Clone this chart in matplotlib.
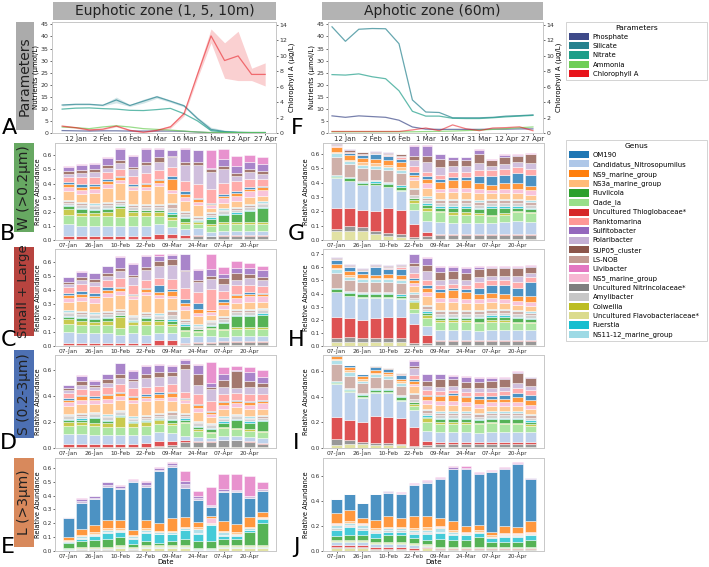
import matplotlib
matplotlib.use("Agg")
from matplotlib import pyplot as plt
from matplotlib.patches import Patch, Rectangle
import numpy as np

W, H = 709, 567

# ---------------- environmental parameters (A / F) ----------------
line_ticks = [1, 3, 5, 7, 9, 11, 13, 15]
line_tick_labels = ["12 Jan", "2 Feb", "16 Feb", "1 Mar", "16 Mar", "31 Mar", "12 Apr", "27 Apr"]

phosphate_A = [1.0, 0.9, 0.8, 0.9, 0.9, 0.8, 0.8, 0.8, 0.8, 0.7, 0.4, 0.1, 0.1, 0.1, 0.1, 0.1]
silicate_A = [11.6, 11.9, 11.9, 11.5, 13.7, 11.4, 13.2, 15.0, 13.2, 11.3, 6.0, 1.5, 0.6, 0.3, 0.2, 0.2]
silicate_A_sd = [0.4, 0.3, 0.3, 0.3, 1.2, 0.4, 0.8, 0.6, 0.5, 0.5, 0.6, 0.9, 0.6, 0.4, 0.3, 0.3]
nitrate_A = [9.9, 10.3, 10.4, 10.1, 9.9, 9.4, 9.3, 9.7, 10.2, 8.0, 5.0, 1.0, 0.4, 0.2, 0.1, 0.1]
ammonia_A = [2.5, 2.2, 1.8, 2.5, 3.0, 2.5, 1.8, 1.5, 1.2, 0.8, 0.4, 0.2, 0.2, 0.2, 0.2, 0.2]
chl_A = [0.9, 0.7, 0.4, 0.5, 0.9, 0.35, 0.1, 0.35, 0.8, 2.5, 7.6, 12.6, 9.4, 10.0, 7.6, 7.6]
chl_A_sd = [0.1, 0.1, 0.1, 0.1, 0.1, 0.1, 0.1, 0.1, 0.2, 0.3, 0.5, 0.9, 2.3, 3.2, 0.8, 1.5]

phosphate_F = [7.1, 6.5, 7.1, 6.8, 6.5, 5.3, 2.5, 1.6, 1.5, 1.5, 1.5, 1.5, 1.6, 1.6, 1.7, 1.7]
silicate_F = [44.0, 38.0, 43.0, 43.3, 43.2, 37.0, 13.7, 8.7, 8.5, 6.3, 6.3, 6.3, 6.5, 7.0, 7.2, 7.5]
nitrate_F = [24.2, 24.0, 24.5, 23.3, 22.5, 17.5, 9.0, 7.0, 7.0, 6.1, 6.0, 6.0, 6.3, 6.7, 7.0, 7.3]
ammonia_F = [0.5, 0.5, 0.5, 0.5, 0.5, 0.5, 0.5, 0.6, 0.7, 0.8, 1.0, 1.2, 1.5, 1.8, 2.2, 2.5]
chl_F = [0.2, 0.2, 0.2, 0.2, 0.2, 0.2, 0.4, 0.65, 0.3, 1.05, 0.55, 0.3, 0.65, 0.7, 0.8, 0.3]

param_names = ["Phosphate", "Silicate", "Nitrate", "Ammonia", "Chlorophyll A"]
param_colors = ["#3e4a89", "#26828e", "#1f9e89", "#6ece58", "#e8141b"]

# ---------------- genus composition (B-E euphotic, G-J aphotic) ----------------
bar_dates = ["07-Jan", "14-Jan", "26-Jan", "02-Feb", "10-Feb", "16-Feb", "22-Feb", "01-Mar",
             "09-Mar", "16-Mar", "24-Mar", "31-Mar", "07-Apr", "12-Apr", "20-Apr", "27-Apr"]

genus_legend = ["OM190", "Candidatus_Nitrosopumilus", "NS9_marine_group", "NS3a_marine_group",
                "Fluviicola", "Clade_Ia", "Uncultured Thioglobaceae*", "Planktomarina",
                "Sulfitobacter", "Polaribacter", "SUP05_cluster", "LS-NOB", "Ulvibacter",
                "NS5_marine_group", "Uncultured Nitrincolaceae*", "Amylibacter", "Colwellia",
                "Uncultured Flavobacteriaceae*", "Fuerstia", "NS11-12_marine_group"]

stack_order = ["Uncultured Flavobacteriaceae*", "Uncultured Nitrincolaceae*",
               "Uncultured Thioglobaceae*", "Candidatus_Nitrosopumilus", "Clade_Ia",
               "Colwellia", "Fluviicola", "Fuerstia", "Amylibacter", "LS-NOB",
               "NS11-12_marine_group", "NS3a_marine_group", "NS5_marine_group",
               "NS9_marine_group", "OM190", "Planktomarina", "Polaribacter",
               "SUP05_cluster", "Sulfitobacter", "Ulvibacter"]

W_euph = {
    "Uncultured Flavobacteriaceae*": [.005, .005, .005, .005, .005, .005, .005, .005, .005, .005, .005, .005, .01, .01, .01, .01],
    "Uncultured Nitrincolaceae*": [.005, .005, .005, .005, .005, .005, .005, .005, .01, .01, .02, .02, .02, .02, .02, .02],
    "Uncultured Thioglobaceae*": [.02, .02, .02, .02, .02, .02, .02, .03, .03, .02, .01, .005, .005, .005, .005, .005],
    "Candidatus_Nitrosopumilus": [.08, .07, .07, .07, .07, .07, .07, .07, .05, .04, .05, .03, .03, .03, .03, .03],
    "Clade_Ia": [.07, .07, .07, .07, .06, .07, .07, .06, .05, .04, .03, .04, .05, .05, .05, .05],
    "Colwellia": [.04, .02, .02, .03, .07, .03, .03, .03, .02, .01, .01, .01, .01, .01, .01, .01],
    "Fluviicola": [.02, .03, .02, .02, .01, .01, .01, .01, .02, .03, .01, .04, .05, .06, .08, .10],
    "Fuerstia": [.005, .01, .01, .01, .005, .005, .005, .005, .01, .01, .005, .01, .01, .01, .01, .01],
    "Amylibacter": [.02, .02, .02, .02, .02, .02, .02, .02, .03, .02, .01, .02, .02, .02, .02, .02],
    "LS-NOB": [.01, .01, .01, .01, .01, .01, .01, .01, .03, .01, .01, .01, .01, .01, .01, .01],
    "NS11-12_marine_group": [.01, .01, .01, .01, .01, .01, .01, .01, .01, .01, .01, .005, .01, .01, .01, .01],
    "NS3a_marine_group": [.06, .055, .075, .10, .12, .10, .10, .13, .07, .07, .08, .03, .04, .04, .05, .04],
    "NS5_marine_group": [.03, .03, .03, .03, .02, .02, .02, .02, .02, .03, .02, .02, .03, .04, .04, .04],
    "NS9_marine_group": [.02, .02, .02, .02, .02, .01, .02, .02, .08, .02, .02, .01, .02, .02, .02, .02],
    "OM190": [.015, .02, .015, .01, .01, .01, .01, .01, .02, .02, .005, .005, .01, .01, .01, .005],
    "Planktomarina": [.04, .05, .05, .05, .05, .06, .07, .06, .06, .07, .10, .10, .08, .07, .06, .05],
    "Polaribacter": [.02, .03, .03, .03, .04, .05, .06, .06, .07, .12, .14, .12, .10, .04, .05, .04],
    "SUP05_cluster": [.02, .02, .02, .02, .02, .01, .02, .03, .01, .02, .02, .02, .02, .02, .02, .02],
    "Sulfitobacter": [.03, .04, .04, .05, .08, .08, .09, .06, .04, .09, .08, .01, .05, .05, .05, .05],
    "Ulvibacter": [.005, .005, .005, .005, .005, .005, .005, .01, .005, .005, .005, .13, .07, .07, .05, .05],
}

SL_euph = {
    "Uncultured Flavobacteriaceae*": [.005, .005, .005, .005, .005, .005, .005, .005, .005, .005, .005, .005, .01, .01, .01, .01],
    "Uncultured Nitrincolaceae*": [.005, .005, .005, .005, .005, .005, .005, .005, .005, .01, .02, .02, .02, .02, .02, .02],
    "Uncultured Thioglobaceae*": [.01, .01, .01, .01, .01, .01, .01, .03, .03, .01, .005, .005, .005, .005, .005, .005],
    "Candidatus_Nitrosopumilus": [.08, .07, .07, .07, .06, .07, .06, .05, .05, .04, .04, .04, .03, .04, .04, .04],
    "Clade_Ia": [.06, .06, .06, .06, .05, .06, .07, .06, .05, .04, .03, .05, .05, .05, .05, .05],
    "Colwellia": [.03, .03, .02, .03, .08, .02, .03, .03, .02, .01, .01, .01, .01, .01, .01, .01],
    "Fluviicola": [.02, .02, .02, .02, .01, .01, .02, .01, .02, .03, .01, .01, .04, .08, .08, .09],
    "Fuerstia": [.005, .01, .01, .01, .005, .005, .005, .005, .01, .01, .005, .01, .01, .01, .01, .01],
    "Amylibacter": [.02, .02, .02, .02, .02, .02, .02, .02, .03, .02, .01, .02, .02, .02, .02, .02],
    "LS-NOB": [.01, .01, .01, .01, .01, .01, .01, .01, .03, .01, .01, .01, .01, .01, .01, .01],
    "NS11-12_marine_group": [.01, .01, .01, .01, .01, .01, .01, .01, .01, .01, .01, .005, .01, .01, .01, .01],
    "NS3a_marine_group": [.06, .07, .07, .10, .10, .11, .12, .11, .08, .06, .06, .04, .05, .04, .05, .04],
    "NS5_marine_group": [.03, .03, .03, .03, .03, .02, .02, .02, .02, .03, .02, .02, .03, .04, .04, .04],
    "NS9_marine_group": [.02, .02, .02, .02, .02, .01, .02, .02, .03, .02, .03, .01, .02, .02, .02, .02],
    "OM190": [.015, .02, .02, .02, .01, .01, .01, .05, .02, .03, .04, .005, .02, .01, .01, .005],
    "Planktomarina": [.04, .05, .05, .05, .06, .06, .06, .05, .07, .08, .08, .15, .06, .06, .05, .05],
    "Polaribacter": [.02, .03, .03, .03, .05, .06, .07, .09, .10, .12, .07, .07, .05, .04, .05, .04],
    "SUP05_cluster": [.02, .02, .02, .02, .02, .01, .02, .03, .04, .01, .02, .02, .04, .05, .03, .02],
    "Sulfitobacter": [.03, .04, .04, .05, .08, .08, .08, .04, .03, .11, .07, .05, .03, .03, .04, .05],
    "Ulvibacter": [.005, .005, .005, .005, .005, .005, .005, .01, .005, .005, .005, .11, .05, .05, .04, .03],
}

S_euph = {
    "Uncultured Flavobacteriaceae*": [.005, .005, .005, .005, .005, .005, .005, .005, .005, .01, .01, .01, .01, .01, .01, .01],
    "Uncultured Nitrincolaceae*": [.005, .005, .005, .005, .005, .005, .005, .01, .02, .04, .04, .04, .05, .05, .04, .02],
    "Uncultured Thioglobaceae*": [.02, .02, .02, .02, .02, .02, .03, .04, .03, .01, .005, .005, .005, .005, .005, .005],
    "Candidatus_Nitrosopumilus": [.08, .08, .07, .07, .07, .07, .06, .07, .06, .03, .03, .02, .03, .03, .03, .04],
    "Clade_Ia": [.06, .07, .07, .06, .06, .06, .07, .06, .06, .10, .05, .04, .06, .05, .05, .05],
    "Colwellia": [.03, .02, .02, .03, .08, .03, .03, .03, .02, .01, .01, .01, .01, .01, .01, .01],
    "Fluviicola": [.02, .02, .04, .02, .01, .01, .01, .01, .02, .02, .02, .02, .03, .06, .05, .07],
    "Fuerstia": [.005, .01, .01, .01, .005, .005, .005, .005, .01, .01, .005, .01, .01, .01, .01, .01],
    "Amylibacter": [.02, .02, .02, .02, .02, .02, .02, .02, .03, .02, .02, .02, .02, .02, .02, .02],
    "LS-NOB": [.01, .01, .01, .01, .01, .01, .01, .01, .02, .01, .01, .01, .01, .01, .01, .01],
    "NS11-12_marine_group": [.01, .01, .01, .01, .01, .01, .01, .01, .01, .01, .01, .005, .01, .01, .01, .01],
    "NS3a_marine_group": [.06, .07, .06, .09, .08, .10, .11, .10, .08, .08, .07, .05, .06, .05, .06, .05],
    "NS5_marine_group": [.03, .03, .03, .03, .03, .03, .02, .02, .03, .02, .03, .02, .03, .03, .03, .04],
    "NS9_marine_group": [.02, .03, .02, .03, .02, .02, .02, .03, .03, .01, .02, .02, .02, .02, .02, .02],
    "OM190": [.01, .01, .01, .01, .01, .01, .01, .01, .01, .01, .01, .005, .01, .01, .01, .005],
    "Planktomarina": [.04, .05, .05, .05, .06, .06, .06, .05, .06, .04, .08, .08, .05, .05, .05, .05],
    "Polaribacter": [.02, .03, .02, .03, .05, .05, .07, .07, .06, .18, .07, .09, .06, .04, .06, .05],
    "SUP05_cluster": [.02, .03, .02, .03, .03, .02, .03, .04, .03, .04, .08, .02, .05, .13, .04, .03],
    "Sulfitobacter": [.02, .04, .03, .04, .08, .06, .06, .05, .05, .03, .07, .03, .05, .01, .07, .05],
    "Ulvibacter": [.005, .005, .005, .005, .005, .005, .005, .01, .005, .005, .01, .16, .05, .03, .04, .05],
}

L_euph = {
    "Uncultured Flavobacteriaceae*": [.01, .01, .01, .01, .02, .01, .02, .02, .02, .02, .005, .005, .02, .02, .02, .02],
    "Uncultured Nitrincolaceae*": [0, .005, .005, .005, .005, .005, .005, .005, .005, .005, .005, .005, .005, .005, .005, .005],
    "Uncultured Thioglobaceae*": [0, 0, 0, 0, 0, 0, 0, 0, 0, 0, 0, 0, 0, 0, 0, 0],
    "Candidatus_Nitrosopumilus": [.005, .005, .005, .005, .005, .005, .005, .005, .005, .005, .005, .005, .005, .005, .005, .005],
    "Clade_Ia": [.005, .005, .005, .005, .005, .005, .005, .005, .005, .005, .005, .005, .005, .005, .005, .005],
    "Colwellia": [.005, .005, .005, .005, .005, .005, .005, .005, .005, .005, .005, .005, .005, .005, .005, .005],
    "Fluviicola": [.03, .04, .05, .06, .06, .02, .03, .02, .03, .05, .05, .05, .05, .05, .10, .16],
    "Fuerstia": [.01, .02, .03, .04, .04, .04, .06, .06, .05, .06, .05, .11, .02, .02, .01, .03],
    "Amylibacter": [.005, .005, .005, .005, .005, .005, .005, .005, .005, .005, .005, .005, .005, .005, .005, .005],
    "LS-NOB": [0, 0, 0, 0, 0, 0, 0, 0, 0, 0, 0, 0, 0, 0, 0, 0],
    "NS11-12_marine_group": [.005, .01, .01, .02, .01, .01, .02, .01, .01, .01, .03, .005, .02, .01, .01, .005],
    "NS3a_marine_group": [.005, .01, .01, .01, .01, .01, .01, .01, .01, .01, .01, .01, .01, .01, .01, .005],
    "NS5_marine_group": [0, 0, 0, 0, 0, 0, 0, 0, 0, 0, 0, .03, 0, 0, 0, 0],
    "NS9_marine_group": [.02, .045, .05, .06, .06, .04, .06, .06, .09, .07, .04, .02, .07, .06, .07, .04],
    "OM190": [.14, .19, .19, .24, .22, .34, .24, .37, .375, .21, .16, .06, .21, .23, .14, .15],
    "Planktomarina": [0, 0, 0, 0, 0, 0, 0, 0, 0, 0, 0, 0, 0, 0, 0, 0],
    "Polaribacter": [.005, .01, .01, .01, .01, .01, .01, .01, .01, .03, .01, .01, .01, .01, .01, .01],
    "SUP05_cluster": [0, 0, 0, 0, 0, 0, 0, 0, 0, 0, 0, 0, 0, 0, 0, 0],
    "Sulfitobacter": [.002, .015, .01, .02, .015, .01, .02, .015, .015, .02, .02, .005, .01, .005, .005, .005],
    "Ulvibacter": [0, .005, .005, .005, .01, .005, .01, .005, .005, .07, .035, .13, .11, .12, .14, .05],
}

W_aph = {
    "Uncultured Flavobacteriaceae*": [.06, .06, .06, .04, .03, .02, .005, .005, .005, .005, .005, .005, .005, .005, .005, .005],
    "Uncultured Nitrincolaceae*": [.02, .04, .03, .02, .02, .02, .015, .02, .03, .03, .03, .03, .03, .03, .03, .03],
    "Uncultured Thioglobaceae*": [.14, .12, .12, .14, .17, .17, .09, .03, .01, .01, .01, .01, .01, .01, .01, .01],
    "Candidatus_Nitrosopumilus": [.21, .19, .17, .18, .15, .13, .10, .08, .08, .07, .07, .07, .07, .08, .09, .08],
    "Clade_Ia": [.005, 0, 0, 0, 0, .01, .05, .07, .07, .06, .06, .06, .05, .05, .06, .06],
    "Colwellia": [0, 0, 0, 0, 0, 0, .02, .02, .01, .02, .02, .01, .01, .01, .01, .01],
    "Fluviicola": [.01, .02, .02, .02, .02, .02, .01, .02, .02, .03, .03, .03, .05, .04, .02, .02],
    "Fuerstia": [.005, .005, .005, .01, .01, .01, .005, .01, .01, .01, .01, .01, .01, .01, .01, .01],
    "Amylibacter": [.005, .005, .005, .005, .005, .005, .02, .02, .02, .02, .02, .02, .02, .02, .02, .02],
    "LS-NOB": [.12, .09, .09, .08, .08, .08, .04, .02, .02, .02, .02, .02, .02, .02, .02, .02],
    "NS11-12_marine_group": [.03, .02, .02, .02, .02, .02, .01, .01, .01, .01, .01, .01, .01, .01, .01, .01],
    "NS3a_marine_group": [.01, .01, .02, .02, .02, .02, .05, .06, .05, .05, .05, .05, .04, .04, .04, .04],
    "NS5_marine_group": [0, 0, 0, 0, 0, 0, .02, .03, .02, .03, .03, .03, .02, .03, .03, .03],
    "NS9_marine_group": [.03, .03, .03, .03, .03, .04, .02, .03, .05, .05, .05, .04, .04, .04, .04, .03],
    "OM190": [.005, .015, .02, .03, .03, .02, .02, .02, .02, .02, .02, .05, .06, .06, .07, .08],
    "Planktomarina": [.005, .005, .005, .005, .005, .01, .04, .03, .03, .04, .04, .04, .04, .04, .04, .04],
    "Polaribacter": [.005, .005, .005, .005, .005, .01, .04, .07, .05, .04, .04, .05, .03, .035, .04, .04],
    "SUP05_cluster": [.01, .01, .01, .01, .01, .01, .03, .04, .06, .04, .04, .06, .04, .05, .04, .06],
    "Sulfitobacter": [.005, .005, .005, .005, .005, .005, .07, .07, .03, .02, .02, .03, .005, .01, .005, .005],
    "Ulvibacter": [0, 0, 0, 0, 0, 0, .005, .005, .005, .005, .005, .005, .005, .005, .005, .005],
}

SL_aph = {
    "Uncultured Flavobacteriaceae*": [.03, .03, .03, .03, .03, .03, .005, .005, .005, .005, .005, .005, .005, .005, .005, .005],
    "Uncultured Nitrincolaceae*": [.03, .04, .03, .03, .03, .03, .02, .02, .03, .03, .03, .03, .03, .03, .03, .03],
    "Uncultured Thioglobaceae*": [.16, .14, .14, .15, .16, .16, .14, .06, .01, .01, .01, .01, .01, .01, .01, .01],
    "Candidatus_Nitrosopumilus": [.19, .17, .17, .16, .15, .14, .09, .07, .08, .08, .08, .07, .08, .08, .08, .08],
    "Clade_Ia": [.005, .005, .005, .005, .005, .005, .03, .06, .06, .06, .06, .06, .06, .06, .05, .05],
    "Colwellia": [0, 0, 0, 0, 0, 0, .05, .02, .01, .01, .01, .01, .01, .01, .01, .01],
    "Fluviicola": [.02, .02, .02, .02, .02, .02, .01, .02, .02, .02, .02, .03, .03, .03, .03, .02],
    "Fuerstia": [.005, .01, .01, .01, .01, .01, .005, .01, .01, .01, .01, .01, .01, .01, .01, .01],
    "Amylibacter": [.005, .005, .005, .005, .005, .005, .02, .02, .02, .02, .02, .02, .02, .02, .02, .02],
    "LS-NOB": [.11, .08, .08, .08, .08, .08, .03, .02, .02, .02, .02, .02, .02, .02, .02, .02],
    "NS11-12_marine_group": [.03, .03, .02, .02, .02, .02, .01, .01, .01, .01, .01, .01, .01, .01, .01, .01],
    "NS3a_marine_group": [.01, .01, .01, .01, .01, .01, .05, .07, .06, .06, .05, .05, .05, .04, .04, .04],
    "NS5_marine_group": [0, 0, 0, 0, 0, 0, .02, .03, .03, .03, .03, .03, .03, .03, .03, .03],
    "NS9_marine_group": [.03, .03, .03, .02, .03, .03, .02, .03, .05, .06, .06, .04, .04, .04, .04, .05],
    "OM190": [.03, .03, .02, .06, .04, .05, .02, .02, .02, .02, .02, .05, .06, .07, .06, .10],
    "Planktomarina": [.005, .005, .005, .005, .005, .01, .04, .04, .03, .03, .03, .04, .04, .04, .04, .04],
    "Polaribacter": [.005, .005, .005, .005, .005, .01, .05, .07, .04, .04, .04, .04, .03, .03, .05, .03],
    "SUP05_cluster": [.01, .01, .01, .01, .01, .01, .02, .04, .06, .06, .05, .06, .06, .06, .06, .05],
    "Sulfitobacter": [.005, .005, .005, .005, .005, .005, .07, .06, .04, .03, .04, .02, .01, .01, .01, .005],
    "Ulvibacter": [0, 0, 0, 0, 0, 0, .005, .005, .005, .005, .005, .005, .005, .005, .005, .005],
}

S_aph = {
    "Uncultured Flavobacteriaceae*": [.02, .03, .03, .02, .02, .02, .005, .005, .005, .005, .005, .005, .005, .005, .005, .005],
    "Uncultured Nitrincolaceae*": [.05, .03, .02, .02, .02, .01, .01, .02, .03, .03, .03, .03, .03, .03, .03, .03],
    "Uncultured Thioglobaceae*": [.17, .16, .15, .21, .20, .20, .15, .03, .01, .01, .01, .01, .01, .01, .01, .01],
    "Candidatus_Nitrosopumilus": [.26, .22, .19, .18, .19, .14, .13, .08, .08, .08, .08, .07, .08, .08, .08, .08],
    "Clade_Ia": [.005, .005, .005, .005, .005, .005, .03, .07, .06, .06, .06, .07, .07, .06, .06, .05],
    "Colwellia": [0, 0, 0, 0, 0, 0, .02, .03, .02, .02, .02, .01, .01, .01, .01, .01],
    "Fluviicola": [.01, .01, .02, .02, .02, .02, .01, .01, .02, .02, .02, .02, .02, .03, .03, .02],
    "Fuerstia": [.005, .005, .005, .005, .005, .01, .005, .01, .01, .01, .01, .01, .01, .01, .01, .01],
    "Amylibacter": [.005, .005, .005, .005, .005, .005, .02, .02, .02, .02, .02, .02, .02, .02, .02, .02],
    "LS-NOB": [.13, .10, .08, .09, .07, .07, .04, .02, .02, .02, .02, .02, .02, .02, .02, .02],
    "NS11-12_marine_group": [.03, .03, .02, .02, .03, .03, .01, .01, .01, .01, .01, .01, .01, .01, .01, .01],
    "NS3a_marine_group": [.005, .01, .01, .01, .01, .01, .05, .04, .05, .05, .04, .04, .04, .04, .04, .04],
    "NS5_marine_group": [0, 0, 0, 0, 0, 0, .02, .03, .03, .03, .03, .03, .03, .03, .03, .03],
    "NS9_marine_group": [.03, .03, .03, .02, .02, .02, .02, .03, .04, .05, .04, .04, .03, .03, .04, .04],
    "OM190": [.005, .01, .01, .03, .02, .03, .02, .01, .01, .01, .01, .02, .02, .03, .03, .04],
    "Planktomarina": [0, 0, 0, 0, 0, .005, .03, .04, .03, .03, .03, .03, .03, .03, .04, .04],
    "Polaribacter": [0, 0, 0, 0, 0, .005, .05, .03, .03, .03, .03, .03, .03, .03, .04, .03],
    "SUP05_cluster": [0, .005, .005, .005, .005, .005, .02, .04, .06, .05, .05, .05, .06, .06, .08, .06],
    "Sulfitobacter": [0, 0, 0, 0, 0, 0, .04, .05, .04, .03, .04, .03, .02, .01, .01, .005],
    "Ulvibacter": [0, 0, 0, 0, 0, 0, .005, .005, .005, .005, .005, .005, .005, .005, .005, .005],
}

L_aph = {
    "Uncultured Flavobacteriaceae*": [.02, .02, .02, .01, .01, .01, .005, .02, .01, .01, .01, .01, .01, .01, .01, .01],
    "Uncultured Nitrincolaceae*": [.01, .01, .01, .005, .005, .005, .005, .005, .005, .005, .005, .005, .005, .005, .005, .005],
    "Uncultured Thioglobaceae*": [.02, .02, .02, .02, .02, .02, .015, .005, .005, .005, .005, .005, .005, .005, .005, .005],
    "Candidatus_Nitrosopumilus": [.02, .02, .02, .02, .02, .02, .02, .01, .005, .005, .005, .005, .005, .005, .005, .005],
    "Clade_Ia": [.01, .01, .01, .01, .01, .01, .01, .01, .005, .005, .005, .005, .005, .005, .005, .005],
    "Colwellia": [.01, .01, .01, .01, .01, .01, .01, .005, .005, .005, .005, .005, .005, .005, .005, .005],
    "Fluviicola": [.03, .04, .04, .03, .05, .05, .04, .03, .06, .05, .05, .08, .04, .04, .04, .05],
    "Fuerstia": [.05, .06, .04, .04, .03, .03, .03, .05, .05, .04, .04, .03, .03, .04, .04, .04],
    "Amylibacter": [.01, .01, .01, .01, .01, .01, .01, .01, .01, .01, .005, .005, .005, .005, .005, .005],
    "LS-NOB": [.005, .005, .005, .005, .005, .005, .005, .005, 0, 0, 0, 0, 0, 0, 0, 0],
    "NS11-12_marine_group": [.02, .02, .02, .01, .01, .01, .02, .02, .03, .02, .005, .005, .005, .005, .005, .005],
    "NS3a_marine_group": [.01, .01, .01, .01, .01, .01, .01, .02, .01, .01, .01, .01, .01, .01, .01, .01],
    "NS5_marine_group": [.005, .005, .005, .005, .005, .005, .005, .005, .005, .005, .005, .005, .005, .005, .005, .005],
    "NS9_marine_group": [.08, .09, .04, .06, .08, .07, .09, .08, .06, .07, .05, .04, .02, .06, .05, .09],
    "OM190": [.11, .12, .12, .21, .19, .19, .25, .27, .31, .41, .45, .40, .48, .45, .50, .33],
    "Planktomarina": [0, 0, 0, 0, 0, 0, 0, 0, 0, 0, 0, 0, 0, 0, 0, 0],
    "Polaribacter": [0, 0, 0, 0, .005, .005, .005, .005, .005, .005, .005, .005, .005, .005, .005, .005],
    "SUP05_cluster": [0, 0, 0, 0, 0, 0, 0, 0, 0, 0, 0, 0, 0, 0, 0, 0],
    "Sulfitobacter": [0, 0, 0, 0, .005, .005, .005, .005, .005, .01, .005, .005, .005, .005, .005, .005],
    "Ulvibacter": [0, 0, 0, 0, .005, .005, .01, .01, .01, .01, .02, .005, .005, .005, .005, .005],
}


tab20 = plt.get_cmap("tab20").colors
genus_colors = {g: tab20[i] for i, g in enumerate(genus_legend)}

plt.rcParams.update({
    "font.family": "DejaVu Sans",
    "axes.edgecolor": "#c8c8c8",
    "axes.linewidth": 0.7,
    "xtick.color": "#333333",
    "ytick.color": "#333333",
    "xtick.major.size": 1.5,
    "ytick.major.size": 1.5,
    "xtick.major.width": 0.5,
    "ytick.major.width": 0.5,
    "xtick.major.pad": 1.0,
    "ytick.major.pad": 1.0,
})

fig = plt.figure(figsize=(W / 100, H / 100), dpi=100)


def px_axes(x0, y0, x1, y1):
    return fig.add_axes([x0 / W, 1 - y1 / H, (x1 - x0) / W, (y1 - y0) / H])


def px_box(x0, y0, x1, y1, color, text, rotation=0, size=10):
    fig.patches.append(Rectangle((x0 / W, 1 - y1 / H), (x1 - x0) / W, (y1 - y0) / H,
                                 transform=fig.transFigure, facecolor=color,
                                 edgecolor="none", zorder=-5))
    fig.text((x0 + x1) / 2 / W, 1 - (y0 + y1) / 2 / H, text, rotation=rotation,
             ha="center", va="center", fontsize=size, color="#222222")


def draw_params(ax, nutrients, chl, chl_sd, xlim, sil_sd=None):
    x = np.arange(len(chl))
    for name, vals in nutrients:
        col = param_colors[param_names.index(name)]
        ax.plot(x, vals, color=col, lw=0.9, alpha=0.7)
        if name == "Silicate" and sil_sd is not None:
            v = np.array(vals)
            s = np.array(sil_sd)
            ax.fill_between(x, v - s, v + s, color=col, alpha=0.2, lw=0)
    ax.set_ylim(0, 46)
    ax.set_yticks(range(0, 46, 5))
    ax.set_xlim(*xlim)
    ax.set_xticks(line_ticks)
    ax.set_xticklabels(line_tick_labels, fontsize=5)
    ax.tick_params(axis="y", labelsize=4.5)
    ax.set_ylabel("Nutrients (µmol/L)", fontsize=5, labelpad=1)
    ax2 = ax.twinx()
    c = np.array(chl)
    ax2.plot(x, c, color=param_colors[4], lw=0.9, alpha=0.55)
    if chl_sd is not None:
        s = np.array(chl_sd)
        ax2.fill_between(x, c - s, c + s, color=param_colors[4], alpha=0.2, lw=0)
    ax2.set_ylim(0, 14.4)
    ax2.set_yticks(range(0, 15, 2))
    ax2.tick_params(axis="y", labelsize=4.5)
    ax2.set_ylabel("Chlorophyll A (µg/L)", fontsize=5, labelpad=1)


def draw_stack(ax, data, xlabel=False):
    x = np.arange(len(bar_dates))
    bottom = np.zeros(len(bar_dates))
    for g in stack_order:
        vals = np.array(data[g], dtype=float)
        ax.bar(x, vals, bottom=bottom, width=0.8, color=genus_colors[g], alpha=0.8,
               edgecolor="white", linewidth=0.4)
        bottom += vals
    ax.set_xlim(-1.05, 16.05)
    ax.set_xticks(x[::2])
    ax.set_xticklabels(bar_dates[::2], fontsize=4.2)
    ax.tick_params(axis="y", labelsize=4.2)
    ax.set_ylabel("Relative Abundance", fontsize=4.8, labelpad=1)
    if xlabel:
        ax.set_xlabel("Date", fontsize=5, labelpad=0)


# header boxes
px_box(53, 2, 276, 20, "#b3b3b3", "Euphotic zone (1, 5, 10m)", size=10)
px_box(322, 2, 543, 20, "#b3b3b3", "Aphotic zone (60m)", size=10)

# row label boxes
px_box(16, 22, 34, 130, "#ababab", "Parameters", rotation=90, size=10)
px_box(14, 143, 34, 232, "#67a862", "W (>0.2µm)", rotation=90, size=10)
px_box(14, 247, 34, 336, "#b7443f", "Small + Large", rotation=90, size=9.5)
px_box(14, 350, 34, 438, "#4d70b3", "S (0.2-3µm)", rotation=90, size=10)
px_box(14, 458, 34, 547, "#d8895c", "L (>3µm)", rotation=90, size=10)

# panel letters, sitting on the bottom line of each row
for letter, xp, yp in [("A", 9, 134), ("B", 8, 240), ("C", 8, 346), ("D", 8, 449), ("E", 8, 553),
                       ("F", 297, 134), ("G", 296, 240), ("H", 296, 346), ("I", 296, 449), ("J", 296, 553)]:
    fig.text(xp / W, 1 - yp / H, letter, fontsize=16, ha="center", va="baseline")

# parameter panels
axA = px_axes(52, 22, 276, 133)
draw_params(axA, [("Phosphate", phosphate_A), ("Silicate", silicate_A), ("Nitrate", nitrate_A),
                  ("Ammonia", ammonia_A)], chl_A, chl_A_sd, (-0.75, 15.8), silicate_A_sd)
axF = px_axes(328, 22, 543, 133)
draw_params(axF, [("Phosphate", phosphate_F), ("Silicate", silicate_F), ("Nitrate", nitrate_F),
                  ("Ammonia", ammonia_F)], chl_F, None, (-0.3, 15.75))

# genus panels
draw_stack(px_axes(55, 143, 276, 240), W_euph)
draw_stack(px_axes(55, 249, 276, 346), SL_euph)
draw_stack(px_axes(55, 355, 276, 448), S_euph)
draw_stack(px_axes(55, 458, 276, 551), L_euph, xlabel=True)
draw_stack(px_axes(323, 143, 544, 240), W_aph)
draw_stack(px_axes(323, 249, 544, 346), SL_aph)
draw_stack(px_axes(323, 355, 544, 448), S_aph)
draw_stack(px_axes(323, 458, 544, 551), L_aph, xlabel=True)

# legends
leg_kw = dict(loc="upper left", fontsize=4.95, title_fontsize=5.4, mode="expand",
              handlelength=3.0, handleheight=1.25, handletextpad=0.5, labelspacing=0.3,
              borderpad=0.4, borderaxespad=0, fancybox=False, edgecolor="#cccccc",
              framealpha=1)

param_handles = [Patch(facecolor=c, label=n) for n, c in zip(param_names, param_colors)]
leg1 = fig.legend(handles=param_handles, title="Parameters",
                  bbox_to_anchor=(566 / W, 1 - 88 / H, 141 / W, 66 / H), **leg_kw)
leg1.get_frame().set_linewidth(0.6)

genus_handles = [Patch(facecolor=genus_colors[g], label=g) for g in genus_legend]
leg2 = fig.legend(handles=genus_handles, title="Genus",
                  bbox_to_anchor=(566 / W, 1 - 372 / H, 141 / W, 232 / H), **leg_kw)
leg2.get_frame().set_linewidth(0.6)

fig.savefig("out.png", dpi=100)
